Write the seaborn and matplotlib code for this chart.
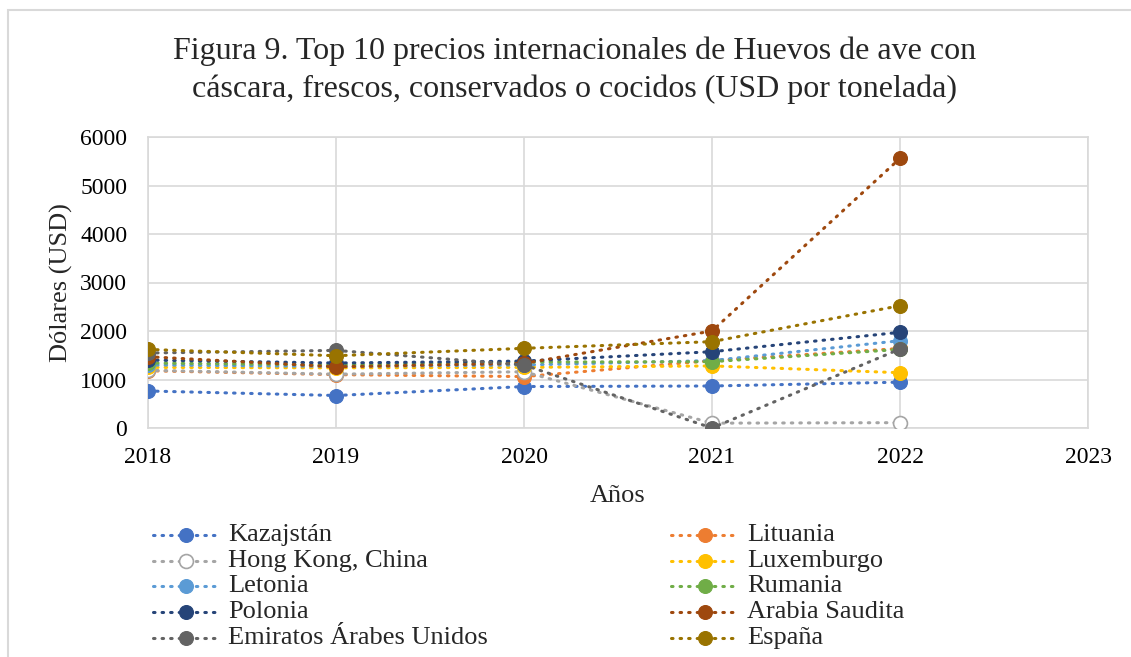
import matplotlib
matplotlib.use('Agg')
import matplotlib.pyplot as plt
import pandas as pd
import seaborn as sns
from matplotlib.patches import Rectangle
from matplotlib.lines import Line2D

years = [2018, 2019, 2020, 2021, 2022]

# series in Excel order (legend row-major)
paises = ['Kazajstán', 'Lituania', 'Hong Kong, China', 'Luxemburgo', 'Letonia',
          'Rumania', 'Polonia', 'Arabia Saudita', 'Emiratos Árabes Unidos', 'España']
kazajstan = [763, 670, 855, 866, 945]
lituania = [1180, 1100, 1060, 1390, 1640]
hong_kong = [1190, 1110, 1160, 100, 110]
luxemburgo = [1250, 1240, 1250, 1280, 1140]
letonia = [1300, 1270, 1300, 1390, 1800]
rumania = [1340, 1300, 1360, 1367, 1620]
polonia = [1400, 1340, 1380, 1573, 1973]
arabia = [1470, 1262, 1333, 2000, 5560]
emiratos = [1546, 1600, 1299, 0, 1629]
espana = [1620, 1490, 1643, 1780, 2522]

colores = ['#4472C4', '#ED7D31', '#A5A5A5', '#FFC000', '#5B9BD5',
           '#70AD47', '#264478', '#9E480E', '#636363', '#997300']

valores = [kazajstan, lituania, hong_kong, luxemburgo, letonia,
           rumania, polonia, arabia, emiratos, espana]

rows = []
for p, vals in zip(paises, valores):
    for y, v in zip(years, vals):
        rows.append({'Año': y, 'USD': v, 'País': p})
df = pd.DataFrame(rows)

sns.set_style('white')
plt.rcParams['font.family'] = ['Liberation Serif', 'DejaVu Serif']

W, H = 1131, 657
fig = plt.figure(figsize=(W / 100, H / 100), dpi=100)
ax = fig.add_axes([148 / W, 1 - 428 / H, (1088 - 148) / W, (428 - 137) / H])

dots = (0, (0.5, 2.3))
for p, c in zip(paises, colores):
    sub = df[df['País'] == p]
    hollow = p == 'Hong Kong, China'
    sns.lineplot(data=sub, x='Año', y='USD', ax=ax, color=c, linewidth=2.2,
                 linestyle=dots, dash_capstyle='round',
                 marker='o', markersize=10,
                 markerfacecolor='white' if hollow else c,
                 markeredgecolor=c, markeredgewidth=1.2 if hollow else 0.8,
                 legend=False, zorder=3)

ax.set_xlim(2018, 2023)
ax.set_ylim(0, 6000)
ax.set_xticks(range(2018, 2024))
ax.set_yticks(range(0, 6001, 1000))
ax.grid(True, color='#d9d9d9', linewidth=1.2, zorder=0)
ax.set_axisbelow(True)
for s in ax.spines.values():
    s.set_color('#d9d9d9')
    s.set_linewidth(1.2)
ax.tick_params(axis='both', length=0, labelsize=17, colors='black')
ax.tick_params(axis='x', pad=14)
ax.tick_params(axis='y', pad=15)
ax.set_xlabel('Años', fontsize=19, labelpad=12)
ax.set_ylabel('Dólares (USD)', fontsize=19, labelpad=5)

fig.text(575 / W, 1 - 70 / H, 'Figura 9. Top 10 precios internacionales de Huevos de ave con\n'
         'cáscara, frescos, conservados o cocidos (USD por tonelada)',
         ha='center', va='center', fontsize=23, linespacing=1.36)

# legend drawn by hand, Excel style: 2 columns, row-major
col_x = [(153, 220, 228), (671, 739, 747)]
row_y0, row_dy = 535, 25.7
for i, (p, c) in enumerate(zip(paises, colores)):
    r, k = divmod(i, 2)
    x0, x1, xt = col_x[k]
    yy = 1 - (row_y0 + r * row_dy) / H
    hollow = p == 'Hong Kong, China'
    fig.add_artist(Line2D([x0 / W, x1 / W], [yy, yy], transform=fig.transFigure,
                          color=c, linewidth=2.2, linestyle=dots, dash_capstyle='round'))
    fig.add_artist(Line2D([(x0 + x1) / 2 / W], [yy], transform=fig.transFigure,
                          marker='o', markersize=10, color=c,
                          markerfacecolor='white' if hollow else c,
                          markeredgecolor=c, markeredgewidth=1.2 if hollow else 0.8))
    fig.text(xt / W, yy, p, fontsize=19, ha='left', va='center')

fig.patches.append(Rectangle((8 / W, -0.1), 1.2, 1 - 10 / H + 0.1,
                             transform=fig.transFigure, fill=False,
                             edgecolor='#d9d9d9', linewidth=1.5))

fig.savefig('out.png', dpi=100)
